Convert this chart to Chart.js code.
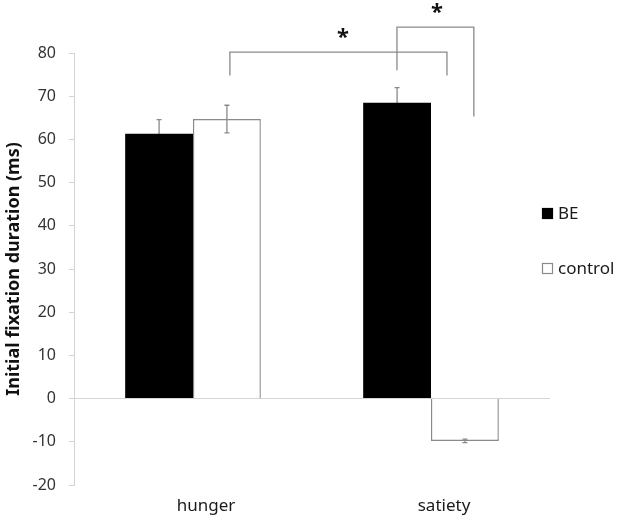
<!DOCTYPE html>
<html>
<head>
<meta charset="utf-8">
<script src="https://cdn.jsdelivr.net/npm/chart.js@4/dist/chart.umd.min.js"></script>
<style>
  html, body { margin: 0; padding: 0; background: #fff; }
  #wrap { width: 624px; height: 516px; position: relative; }
</style>
</head>
<body>
<div id="wrap"><canvas id="chart"></canvas></div>
<script>
// data
const categories = ['hunger', 'satiety'];
const seriesNames = ['BE', 'control'];
const beValues = [61.3, 68.5];
const controlValues = [64.7, -9.8];
const beErrors = [3.3, 3.5];
const controlErrors = [3.2, 0.4];
const yTicks = [-20, -10, 0, 10, 20, 30, 40, 50, 60, 70, 80];

// significance brackets, in category / value units
const bracketX = [[0.155, 0.155, 1.067, 1.067], [0.857, 0.857, 1.18, 1.18]];
const bracketY = [[74.8, 80.2, 80.2, 74.8], [76, 86, 86, 65.3]];
const starX = [0.63, 1.025];
const starY = [84.3, 90.0];

const FONT = "'Noto Sans', 'Open Sans', sans-serif";
const GRAY = '#8a8a8a';

function catPixel(scale, v) {
  const p0 = scale.getPixelForValue(0);
  const p1 = scale.getPixelForValue(1);
  return p0 + v * (p1 - p0);
}

// error bars of the black series sit behind the bars, the white one in front
function drawErrors(chart, which) {
  const ctx = chart.ctx;
  const y = chart.scales.y;
  const errs = [beErrors, controlErrors];
  ctx.save();
  ctx.strokeStyle = GRAY;
  ctx.lineWidth = 1.3;
  which.forEach(i => {
    const ds = chart.data.datasets[i];
    chart.getDatasetMeta(i).data.forEach((bar, j) => {
      const v = ds.data[j], e = errs[i][j];
      const top = y.getPixelForValue(v + e);
      const bot = y.getPixelForValue(v - e);
      ctx.beginPath();
      ctx.moveTo(bar.x, top); ctx.lineTo(bar.x, bot);
      ctx.moveTo(bar.x - 2.5, top); ctx.lineTo(bar.x + 2.5, top);
      ctx.moveTo(bar.x - 2.5, bot); ctx.lineTo(bar.x + 2.5, bot);
      ctx.stroke();
    });
  });
  ctx.restore();
}

const errorBars = {
  id: 'errorBars',
  beforeDatasetsDraw(chart) { drawErrors(chart, [0]); },
  afterDatasetsDraw(chart) { drawErrors(chart, [1]); }
};

const brackets = {
  id: 'brackets',
  afterDraw(chart) {
    const ctx = chart.ctx;
    const xs = chart.scales.x, ys = chart.scales.y;
    ctx.save();
    ctx.strokeStyle = GRAY;
    ctx.lineWidth = 1.3;
    bracketX.forEach((bx, k) => {
      ctx.beginPath();
      bx.forEach((v, m) => {
        const px = catPixel(xs, v), py = ys.getPixelForValue(bracketY[k][m]);
        if (m === 0) ctx.moveTo(px, py); else ctx.lineTo(px, py);
      });
      ctx.stroke();
    });
    ctx.fillStyle = '#111';
    ctx.font = 'bold 22px ' + FONT;
    ctx.textAlign = 'center';
    ctx.textBaseline = 'middle';
    starX.forEach((v, k) => {
      ctx.fillText('*', catPixel(xs, v), ys.getPixelForValue(starY[k]) + 3);
    });
    ctx.restore();
  }
};

const sideLegend = {
  id: 'sideLegend',
  afterDraw(chart) {
    const ctx = chart.ctx;
    const x0 = 542, ys = [213, 268];
    ctx.save();
    ctx.font = '17px ' + FONT;
    ctx.textBaseline = 'middle';
    ctx.textAlign = 'left';
    chart.data.datasets.forEach((ds, i) => {
      const y = ys[i];
      ctx.fillStyle = ds.backgroundColor;
      ctx.fillRect(x0, y - 5, 11, 11);
      ctx.strokeStyle = ds.borderWidth ? ds.borderColor : ds.backgroundColor;
      ctx.lineWidth = 1.2;
      ctx.strokeRect(x0 + 0.5, y - 4.5, 10, 10);
      ctx.fillStyle = '#1a1a1a';
      ctx.fillText(ds.label, x0 + 16, y + 1);
    });
    ctx.restore();
  }
};

new Chart(document.getElementById('chart'), {
  type: 'bar',
  data: {
    labels: categories,
    datasets: [
      {
        label: seriesNames[0],
        data: beValues,
        backgroundColor: '#000000',
        borderWidth: 0
      },
      {
        label: seriesNames[1],
        data: controlValues,
        backgroundColor: '#ffffff',
        borderColor: GRAY,
        borderWidth: 1.4
      }
    ]
  },
  options: {
    responsive: true,
    maintainAspectRatio: false,
    animation: false,
    layout: { padding: { top: 53, right: 74, left: 0, bottom: 0 } },
    plugins: {
      legend: { display: false },
      tooltip: { enabled: false }
    },
    datasets: {
      bar: { categoryPercentage: 0.57, barPercentage: 1.0 }
    },
    scales: {
      x: {
        grid: { display: false },
        border: { display: false },
        ticks: {
          color: '#1a1a1a',
          font: { family: FONT, size: 17 },
          padding: 3,
          labelOffset: 13
        },
        afterFit(scale) { scale.height = 31; }
      },
      y: {
        min: -20,
        max: 80,
        afterBuildTicks(scale) { scale.ticks = yTicks.map(v => ({ value: v })); },
        border: { display: true, color: '#d4d4d4', width: 1 },
        grid: {
          drawOnChartArea: true,
          drawTicks: true,
          tickLength: 5,
          color: c => (c.tick && c.tick.value === 0 ? '#d4d4d4' : 'rgba(0,0,0,0)'),
          tickColor: '#d4d4d4'
        },
        ticks: {
          color: '#333',
          font: { family: FONT, size: 16 },
          padding: 13
        },
        title: {
          display: true,
          text: 'Initial fixation duration (ms)',
          color: '#111',
          font: { family: FONT, size: 18, weight: 'bold' },
          padding: { top: 3, bottom: 0 }
        },
        afterFit(scale) { scale.width = 74; }
      }
    }
  },
  plugins: [errorBars, brackets, sideLegend]
});
</script>
</body>
</html>
